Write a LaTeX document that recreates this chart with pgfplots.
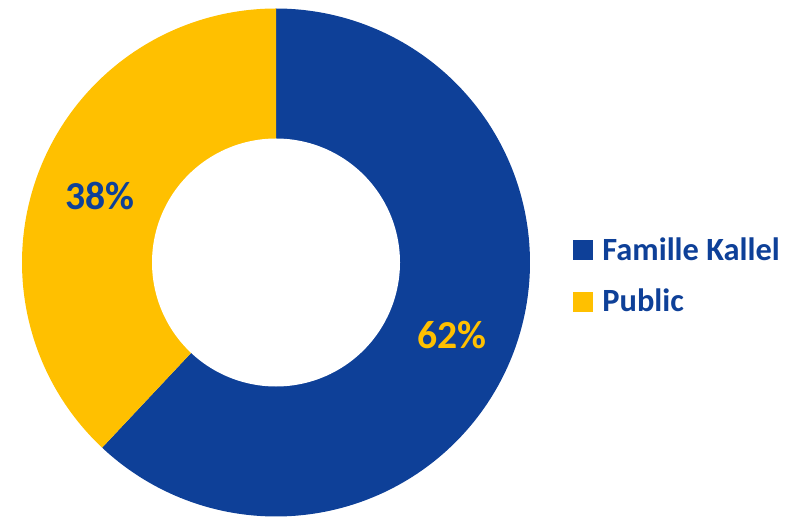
\documentclass[border=0pt]{standalone}
\usepackage{pgfplots}
\pgfplotsset{compat=1.18}
\usepackage{fontspec}
\setmainfont{Carlito}
\definecolor{kblue}{RGB}{14,64,152}
\definecolor{kyellow}{RGB}{255,192,0}

% shares (percent)
\def\valA{62}  % Famille Kallel
\def\valB{38}  % Public

\begin{document}
\begin{tikzpicture}
\pgfmathsetmacro{\aEnd}{90-\valA*3.6}
\pgfmathsetmacro{\bEnd}{90+\valB*3.6}
\pgfmathsetmacro{\aMid}{90-\valA*1.8}
\pgfmathsetmacro{\bMid}{90+\valB*1.8}
\begin{axis}[
    scale only axis,
    width=400.5pt, height=259.5pt,
    xmin=0, xmax=801, ymin=0, ymax=519,
    hide axis, clip=false,
    legend cell align=left,
    legend style={draw=none, fill=none, at={(0.7154,0.468)}, anchor=west,
        font=\bfseries\fontsize{16.2}{19}\selectfont, text=kblue,
        inner sep=0pt, row sep=9pt},
    legend image code/.code={\fill[#1] (0pt,-5pt) rectangle (10pt,5pt);
        \path (12.5pt,0pt);},
]
\addplot[fill=kblue, draw=none, domain=\aEnd:90, samples=181, variable=\t]
    ({276+254*cos(\t)},{256.5+254*sin(\t)}) -- (axis cs:276,256.5) -- cycle;
\addplot[fill=kyellow, draw=none, domain=90:\bEnd, samples=181, variable=\t]
    ({276+254*cos(\t)},{256.5+254*sin(\t)}) -- (axis cs:276,256.5) -- cycle;
\addplot[fill=white, draw=none, domain=0:360, samples=181, variable=\t, forget plot]
    ({276+124*cos(\t)},{256.5+124*sin(\t)}) -- cycle;
\legend{Famille Kallel, Public}
\node[font=\bfseries\fontsize{19.8}{22}\selectfont, text=kyellow]
    at (axis cs:{276+189*cos(\aMid)},{253.5+189*sin(\aMid)}) {\valA\%};
\node[font=\bfseries\fontsize{19.8}{22}\selectfont, text=kblue]
    at (axis cs:{276+189*cos(\bMid)},{253.5+189*sin(\bMid)}) {\valB\%};
\path (axis cs:0,0) rectangle (axis cs:801,519);
\end{axis}
\end{tikzpicture}
\end{document}
